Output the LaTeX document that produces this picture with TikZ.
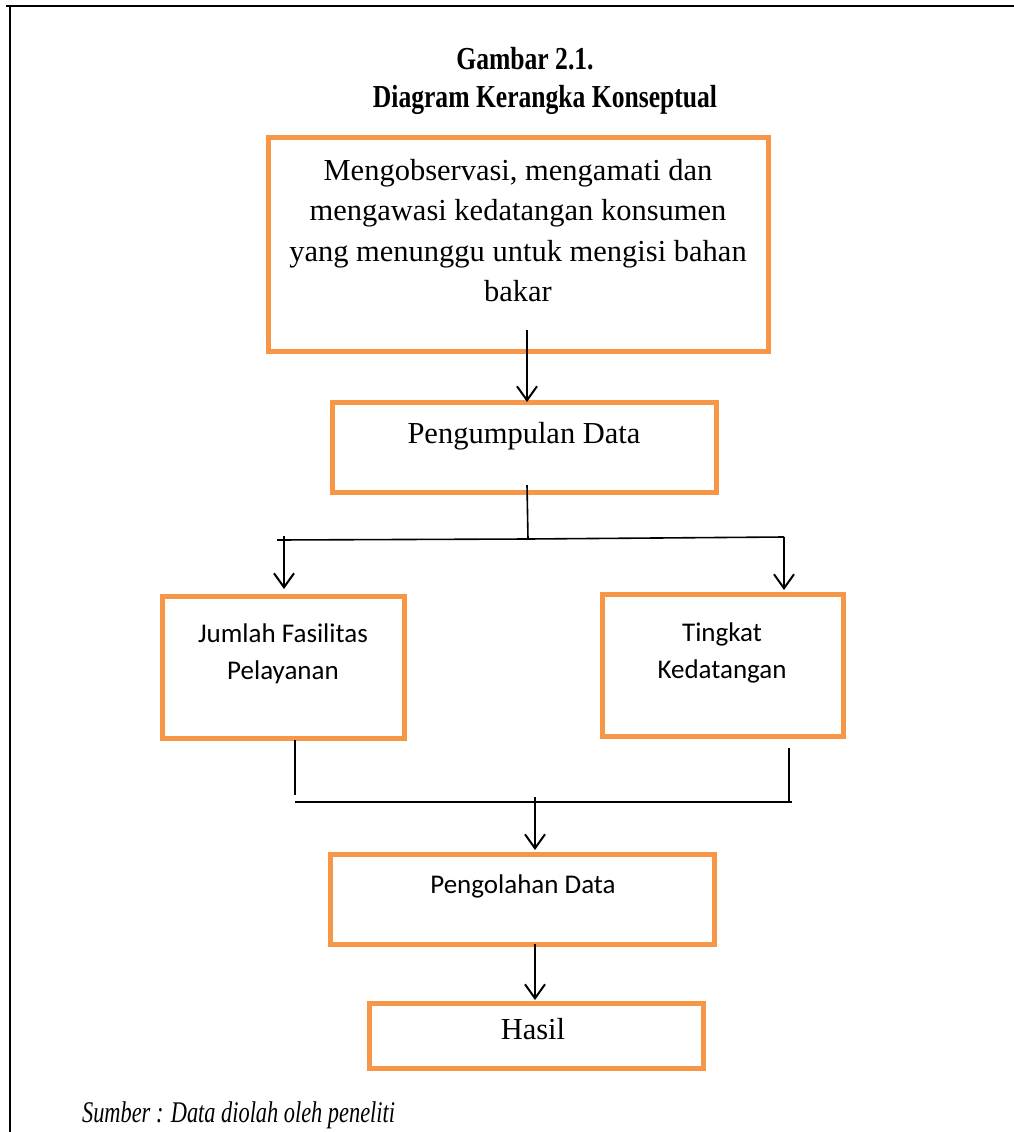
\documentclass[tikz,border=0pt]{standalone}
\usepackage{fontspec}
\setmainfont{Liberation Serif}
\newfontfamily\calib{Carlito}
\usetikzlibrary{arrows.meta,calc}
\definecolor{boxorange}{HTML}{F79646}
\begin{document}
\begin{tikzpicture}[x=1pt,y=-1pt,
  obox/.style={draw=boxorange, line width=5pt, rectangle, inner sep=0pt, outer sep=0pt},
  arr/.style={line width=2pt, -{Straight Barb[length=14pt,width=20pt,line width=2pt]}},
  ln/.style={line width=1.6pt},
  frame/.style={line width=2.6pt},
  tms/.style={font=\fontsize{30.5}{40.5}\selectfont, align=center, inner sep=0pt},
  cal/.style={font=\calib\fontsize{27}{37}\selectfont, align=center, inner sep=0pt},
  ttl/.style={font=\bfseries\fontsize{32}{37}\selectfont, align=center, inner sep=0pt, xscale=0.8},
  src/.style={font=\itshape\fontsize{30}{34}\selectfont, inner sep=0pt, xscale=0.745},
]
\useasboundingbox (0,0) rectangle (1014,1132);
% frame
\coordinate (fl) at (6,6);
\coordinate (fr) at (1014,6);
\coordinate (ft) at (10,6);
\coordinate (fb) at (10,1132);
\draw[frame] (fl) -- (fr);
\draw[frame] (ft) -- (fb);
% title
\node[ttl, anchor=base] (t1) at (525,70) {Gambar 2.1.};
\node[ttl, anchor=base] (t2) at (545,107) {Diagram Kerangka Konseptual};
% boxes
\node[obox, minimum width=500pt, minimum height=214pt] (b1) at (518,244) {};
\node[obox, minimum width=384pt, minimum height=90pt] (b2) at (524,447) {};
\node[obox, minimum width=242pt, minimum height=142pt] (b3) at (283,667) {};
\node[obox, minimum width=241pt, minimum height=142pt] (b4) at (722.5,665) {};
\node[obox, minimum width=384pt, minimum height=90pt] (b5) at (522,899) {};
\node[obox, minimum width=334pt, minimum height=65pt] (b6) at (536,1035.5) {};
% texts
\node[tms, anchor=north] (x1) at (518,159) {Mengobservasi, mengamati dan\\mengawasi kedatangan konsumen\\yang menunggu untuk mengisi bahan\\bakar};
\node[tms, anchor=base] (x2) at (524,443) {Pengumpulan Data};
\node[cal, anchor=base] (x3) at (283,679) {Jumlah Fasilitas\\Pelayanan};
\node[cal, anchor=base] (x4) at (722,678) {Tingkat\\Kedatangan};
\node[cal, anchor=base] (x5) at (523,893) {Pengolahan Data};
\node[tms, anchor=base] (x6) at (533,1039) {Hasil};
\node[src, anchor=base west] (x7) at (82,1122) {Sumber : Data diolah oleh peneliti};
% connectors
\coordinate (c1) at (527,330);
\draw[arr] (c1) -- (c1 |- b2.north);
\coordinate (c2a) at (527,485);
\coordinate (c2b) at (528,539);
\draw[ln] (c2a) -- (c2b);
\coordinate (hL) at (277,540);
\coordinate (hR) at (784,537);
\draw[ln] (hL) -- (c2b) -- (hR);
\coordinate (aL) at (284,536);
\coordinate (aLe) at (284,589);
\draw[arr] (aL) -- (aLe);
\coordinate (aRe) at (784,590);
\draw[arr] (hR) -- (aRe);
\coordinate (vL1) at (295,740);
\coordinate (vL2) at (295,795);
\draw[ln] (vL1) -- (vL2);
\coordinate (vR1) at (789,748);
\coordinate (vR2) at (789,802);
\draw[ln] (vR1) -- (vR2);
\coordinate (h2L) at (295,802);
\coordinate (h2R) at (792,802);
\draw[ln] (h2L) -- (h2R);
\coordinate (c3) at (535,797);
\coordinate (c3e) at (535,850);
\draw[arr] (c3) -- (c3e);
\coordinate (c4e) at (535,1000);
\draw[arr] (b5.south -| c4e) -- (c4e);
\end{tikzpicture}
\end{document}
